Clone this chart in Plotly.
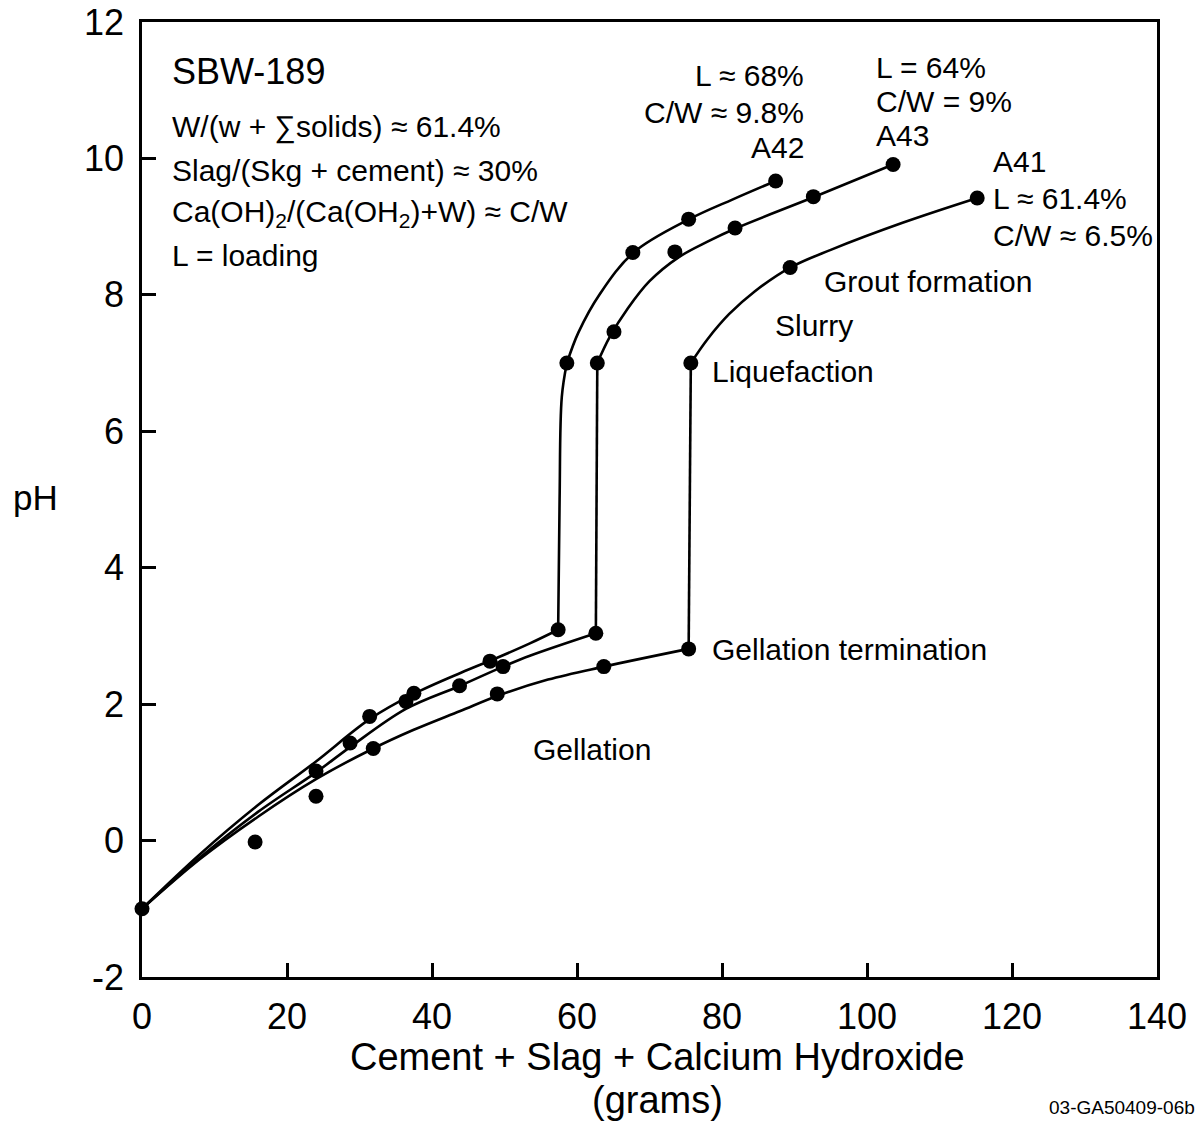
import plotly.graph_objects as go

FONT = "Liberation Sans, Arial, sans-serif"

# ---------------- measured points (markers) ----------------
a42_pts_x = [0, 31.4, 37.5, 48.0, 57.4, 58.6, 67.7, 75.4, 87.4]
a42_pts_y = [-1.0, 1.82, 2.16, 2.63, 3.09, 7.0, 8.62, 9.11, 9.67]

a43_pts_x = [24.0, 28.7, 36.4, 43.8, 49.8, 62.6, 62.8, 65.1, 73.5, 81.8, 92.6, 103.6]
a43_pts_y = [1.02, 1.43, 2.04, 2.27, 2.55, 3.04, 7.0, 7.46, 8.63, 8.98, 9.44, 9.91]

a41_pts_x = [15.6, 24.0, 31.9, 49.0, 63.7, 75.4, 75.7, 89.4, 115.2]
a41_pts_y = [-0.02, 0.65, 1.35, 2.15, 2.55, 2.81, 7.0, 8.40, 9.42]

# ---------------- drawn curves ----------------
# gellation branches
a42_gel_x = [0, 8, 16, 24, 31.4, 37.5, 44, 49, 53.5, 57.4]
a42_gel_y = [-1.0, -0.2, 0.52, 1.16, 1.78, 2.15, 2.46, 2.68, 2.89, 3.09]
a43_gel_x = [0, 8, 16, 24, 28.7, 36.4, 43.9, 49.8, 53.5, 62.6]
a43_gel_y = [-1.0, -0.25, 0.42, 1.0, 1.37, 1.93, 2.27, 2.55, 2.71, 3.04]
a41_gel_x = [0, 8, 16, 24, 31.9, 37.4, 43.9, 49.0, 56.0, 63.7, 75.4]
a41_gel_y = [-1.0, -0.27, 0.35, 0.90, 1.35, 1.62, 1.90, 2.12, 2.36, 2.55, 2.81]

# liquefaction jumps
a42_jump_x = [57.4, 57.6, 57.9, 58.6]
a42_jump_y = [3.09, 5.0, 6.5, 7.0]
a43_jump_x = [62.6, 62.8]
a43_jump_y = [3.04, 7.0]
a41_jump_x = [75.4, 75.7]
a41_jump_y = [2.81, 7.0]

# slurry / grout branches
a42_grout_x = [58.6, 60.2, 63.2, 67.8, 75.5, 81.5, 87.4]
a42_grout_y = [7.0, 7.45, 8.02, 8.62, 9.11, 9.40, 9.67]
a43_grout_x = [62.8, 64.5, 67.0, 70.0, 74.0, 78.0, 82.0, 92.6, 103.6]
a43_grout_y = [7.0, 7.38, 7.80, 8.20, 8.55, 8.78, 8.98, 9.43, 9.91]
a41_grout_x = [75.7, 78.0, 81.0, 84.5, 89.4, 95.0, 105.0, 115.2]
a41_grout_y = [7.0, 7.35, 7.72, 8.05, 8.40, 8.66, 9.06, 9.42]

x_ticks = [0, 20, 40, 60, 80, 100, 120, 140]
y_ticks = [-2, 0, 2, 4, 6, 8, 10, 12]

LW = 2.6
fig = go.Figure()

def add_line(x, y, shape="spline"):
    fig.add_trace(go.Scatter(x=x, y=y, mode="lines",
                             line=dict(color="black", width=LW, shape=shape, smoothing=1.0),
                             hoverinfo="skip", showlegend=False, cliponaxis=False))

add_line(a42_gel_x, a42_gel_y)
add_line(a43_gel_x, a43_gel_y)
add_line(a41_gel_x, a41_gel_y)
add_line(a42_jump_x, a42_jump_y)
add_line(a43_jump_x, a43_jump_y, "linear")
add_line(a41_jump_x, a41_jump_y, "linear")
add_line(a42_grout_x, a42_grout_y)
add_line(a43_grout_x, a43_grout_y)
add_line(a41_grout_x, a41_grout_y)

for name, px, py in [("A42", a42_pts_x, a42_pts_y), ("A43", a43_pts_x, a43_pts_y),
                     ("A41", a41_pts_x, a41_pts_y)]:
    fig.add_trace(go.Scatter(x=px, y=py, mode="markers", name=name,
                             marker=dict(color="black", size=15),
                             showlegend=False, cliponaxis=False))

ann = []
def txt(x, y, s, size=30, xanchor="left", xref="x", yref="y"):
    ann.append(dict(x=x, y=y, xref=xref, yref=yref, text=s, showarrow=False,
                    xanchor=xanchor, yanchor="middle",
                    font=dict(family=FONT, size=size, color="black")))

txt(3.8, 11.27, "SBW-189", size=36)
txt(3.8, 10.46, "W/(w + ∑solids) ≈ 61.4%")
txt(3.8, 9.83, "Slag/(Skg + cement) ≈ 30%")
txt(3.8, 9.19, "Ca(OH)<sub>2</sub>/(Ca(OH<sub>2</sub>)+W) ≈ C/W")
txt(3.8, 8.57, "L = loading")

txt(91.6, 11.21, "L ≈ 68%", xanchor="right")
txt(91.6, 10.68, "C/W ≈ 9.8%", xanchor="right")
txt(91.6, 10.16, "A42", xanchor="right")

txt(100.9, 11.33, "L = 64%")
txt(100.9, 10.83, "C/W = 9%")
txt(100.9, 10.33, "A43")

txt(117.1, 9.95, "A41")
txt(117.1, 9.41, "L ≈ 61.4%")
txt(117.1, 8.87, "C/W ≈ 6.5%")

txt(93.8, 8.19, "Grout formation")
txt(87.0, 7.55, "Slurry")
txt(78.3, 6.87, "Liquefaction")
txt(78.3, 2.80, "Gellation termination")
txt(53.6, 1.33, "Gellation")

txt(-0.105, 0.5026, "pH", size=35, xanchor="center", xref="paper", yref="paper")
txt(0.508, -0.0838, "Cement + Slag + Calcium Hydroxide", size=38, xanchor="center",
    xref="paper", yref="paper")
txt(0.508, -0.1288, "(grams)", size=38, xanchor="center", xref="paper", yref="paper")
txt(1.0395, -0.137, "03-GA50409-06b", size=19, xanchor="right", xref="paper", yref="paper")

axis_common = dict(showline=True, linecolor="black", linewidth=LW, mirror=True,
                   ticks="inside", ticklen=14, tickwidth=LW, tickcolor="black",
                   showgrid=False, zeroline=False, automargin=False,
                   tickfont=dict(family=FONT, size=36, color="black"))

fig.update_layout(
    width=1200, height=1121,
    margin=dict(l=142, r=43, t=22, b=144),
    paper_bgcolor="white", plot_bgcolor="white",
    annotations=ann,
    xaxis=dict(range=[0, 140], tickvals=x_ticks, ticktext=[str(v) for v in x_ticks],
               ticklabelstandoff=6, **axis_common),
    yaxis=dict(range=[-2, 12], tickvals=y_ticks, ticktext=[str(v) for v in y_ticks],
               ticklabelstandoff=8, **axis_common),
)

# remove the default 8px page margin so the figure sits at the window origin
fig.write_html("out.html", config={"displayModeBar": False},
               post_script="document.body.style.margin='0px';")
